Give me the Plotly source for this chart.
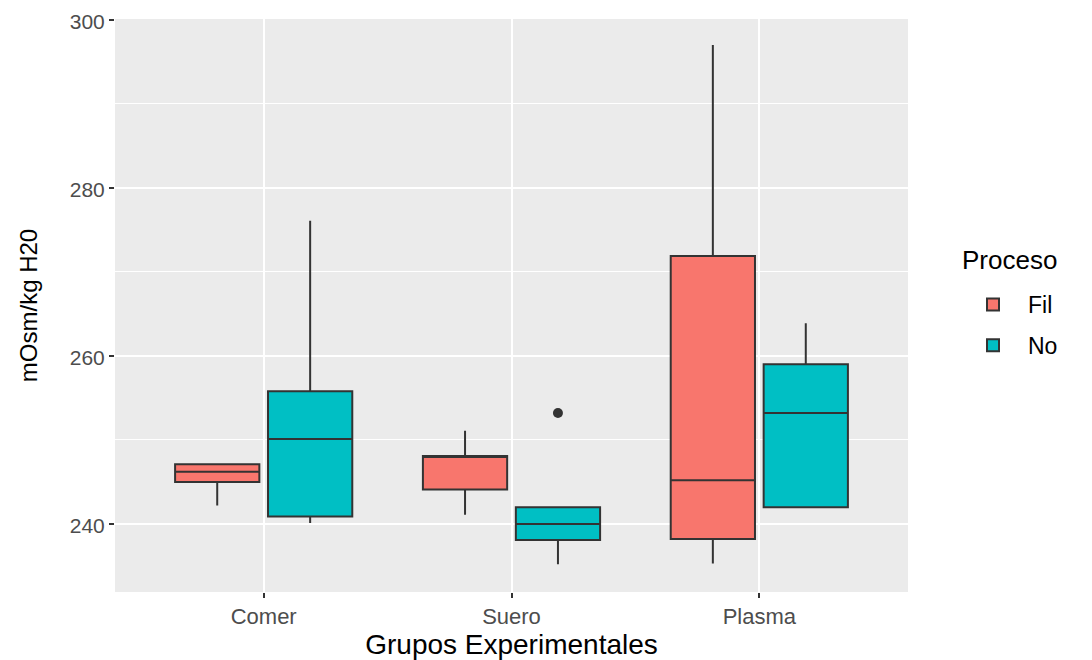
import plotly.graph_objects as go

# ---- data ----
groups = ["Comer", "Suero", "Plasma"]
group_pos = [1, 2, 3]
procesos = ["Fil", "No"]

fil_lower = [242.2, 241.1, 235.3]
fil_q1 = [245.0, 244.1, 238.2]
fil_median = [246.2, 248.0, 245.2]
fil_q3 = [247.1, 248.1, 271.9]
fil_upper = [247.1, 251.1, 297.0]

no_lower = [240.1, 235.2, 242.0]
no_q1 = [240.9, 238.1, 242.0]
no_median = [250.1, 240.0, 253.2]
no_q3 = [255.8, 242.0, 259.0]
no_upper = [276.1, 242.0, 263.9]

outlier_group = ["Suero"]
outlier_proceso = ["No"]
outlier_value = [253.2]

y_ticks = [240, 260, 280, 300]

# ---- styling ----
colors = {"Fil": "#F8766D", "No": "#00BFC4"}
dodge = 0.1875
box_width = 0.34
font_family = "Liberation Sans, Arial, sans-serif"

stats = {
    "Fil": (fil_lower, fil_q1, fil_median, fil_q3, fil_upper),
    "No": (no_lower, no_q1, no_median, no_q3, no_upper),
}
offset = {"Fil": -dodge, "No": dodge}

fig = go.Figure()
for p in procesos:
    lo, q1, med, q3, up = stats[p]
    xs = [g + offset[p] for g in group_pos]
    fig.add_trace(go.Box(
        x=xs, q1=q1, median=med, q3=q3, lowerfence=lo, upperfence=up,
        width=box_width, name=p, legendgroup=p,
        fillcolor=colors[p],
        line=dict(color="#333333", width=2),
        whiskerwidth=0, boxpoints=False, hoverinfo="skip",
    ))

ox = [group_pos[groups.index(g)] + offset[p] for g, p in zip(outlier_group, outlier_proceso)]
fig.add_trace(go.Scatter(
    x=ox, y=outlier_value, mode="markers",
    marker=dict(color="#333333", size=10),
    showlegend=False, hoverinfo="skip",
))

# page body has an 8px margin, so the figure is sized to fit the window
W, H = 1084, 652
ml, mr, mt, mb = 107, 184, 11, 68
pw, ph = W - ml - mr, H - mt - mb

fig.update_layout(
    width=W, height=H,
    margin=dict(l=ml, r=mr, t=mt, b=mb, autoexpand=False),
    paper_bgcolor="white", plot_bgcolor="#EBEBEB",
    boxmode="overlay",
    font=dict(family=font_family, color="#000000"),
    legend=dict(
        font=dict(size=23, color="#000000"),
        x=(958 - 8 - ml) / pw, xanchor="left",
        y=1 - (283 - 8 - mt) / ph, yanchor="top",
        traceorder="grouped", tracegroupgap=8, itemwidth=60,
        bgcolor="rgba(0,0,0,0)",
    ),
    annotations=[dict(
        text="Proceso", showarrow=False, xref="paper", yref="paper",
        x=(960 - 8 - ml) / pw, xanchor="left",
        y=1 - (260 - 8 - mt) / ph, yanchor="middle",
        font=dict(size=26, color="#000000"),
    )],
)
fig.update_xaxes(
    range=[0.4, 3.6], tickmode="array", tickvals=group_pos, ticktext=groups,
    showgrid=True, gridcolor="white", gridwidth=2, zeroline=False,
    ticks="outside", ticklen=5, tickwidth=1.5, tickcolor="#333333",
    tickfont=dict(size=22, color="#4D4D4D"),
    title=dict(text="Grupos Experimentales", font=dict(size=28, color="#000000"), standoff=2),
    showline=False, automargin=False, ticklabeloverflow="allow",
)
fig.update_yaxes(
    range=[231.9, 300.1], tickmode="array", tickvals=y_ticks,
    showgrid=True, gridcolor="white", gridwidth=2, zeroline=False,
    minor=dict(dtick=10, tick0=230, showgrid=True, gridcolor="white", gridwidth=1, ticks=""),
    ticks="outside", ticklen=5, tickwidth=1.5, tickcolor="#333333",
    tickfont=dict(size=21, color="#4D4D4D"),
    ticklabelshift=2,
    title=dict(text="mOsm/kg H20", font=dict(size=24, color="#000000"), standoff=25),
    showline=False, automargin=False, ticklabeloverflow="allow",
)

fig.write_html("out.html")
